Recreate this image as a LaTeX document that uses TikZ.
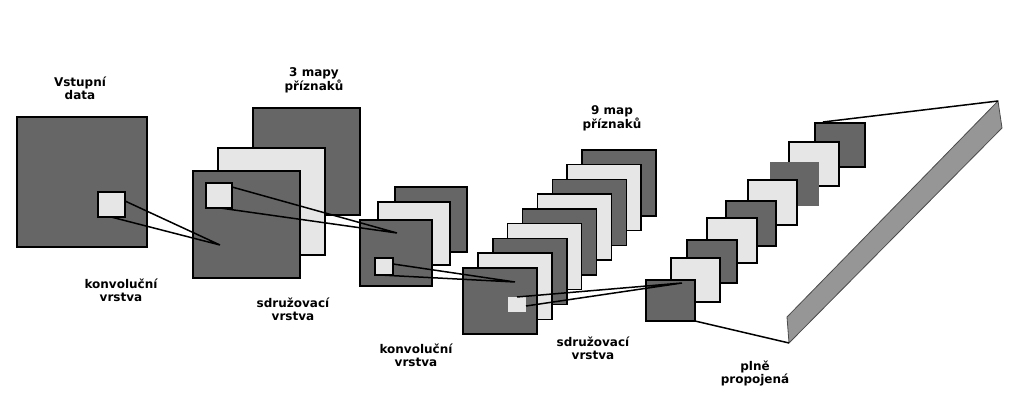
\documentclass[tikz,border=0pt]{standalone}
\usepackage{fontspec}
\setmainfont{DejaVu Sans}
\tikzset{every picture/.style={line width=1.5pt}}
\definecolor{mapdark}{RGB}{102,102,102}
\definecolor{maplight}{RGB}{230,230,230}
\definecolor{slabgray}{RGB}{150,150,150}
\tikzset{
  darkmap/.style={draw=black,fill=mapdark},
  lightmap/.style={draw=black,fill=maplight},
  lbl/.style={font=\bfseries\fontsize{12}{13}\selectfont,align=center},
  link/.style={draw=black,line width=1.5pt}
}
\begin{document}
\begin{tikzpicture}[x=1pt,y=1pt,yscale=-1,xscale=1]
\useasboundingbox (0,0) rectangle (1024,419);

% Input data
\draw[darkmap] (17,117) rectangle (147,247);
\draw[lightmap] (98,192) rectangle (125,217);
\coordinate (inA) at (125,201); \coordinate (inB) at (111,217);

% 3 maps (convolution)
\draw[darkmap] (253,108) rectangle (360,215);
\draw[lightmap] (218,148) rectangle (325,255);
\draw[darkmap] (193,171) rectangle (300,278);
\draw[lightmap] (206,183) rectangle (232,208);
\coordinate (cA) at (220,245);
\draw[link] (inA) -- (cA) (inB) -- (cA);
\coordinate (c1A) at (232,187); \coordinate (c1B) at (220,208);

% pooling
\draw[darkmap] (395,187) rectangle (467,252);
\draw[lightmap] (378,202) rectangle (450,265);
\draw[darkmap] (360,220) rectangle (432,286);
\draw[lightmap] (375,258) rectangle (393,275);
\coordinate (pA) at (397,233);
\draw[link] (c1A) -- (pA) (c1B) -- (pA);
\coordinate (p1A) at (393,264); \coordinate (p1B) at (380,275);

% 9 maps (convolution)
\foreach \i in {0,...,8}{
  \pgfmathsetmacro{\cx}{582-14.875*\i}
  \pgfmathsetmacro{\cy}{150+14.75*\i}
  \ifodd\i
    \draw[lightmap] (\cx,\cy) rectangle ++(74,66);
  \else
    \draw[darkmap] (\cx,\cy) rectangle ++(74,66);
  \fi
}
\draw[fill=maplight,draw=none] (508,297) rectangle (526,312);
\coordinate (kA) at (515,282);
\draw[link] (p1A) -- (kA) (p1B) -- (kA);
\coordinate (k1A) at (517,297); \coordinate (k1B) at (526,306);

% fully connected
\draw[darkmap] (815,123) rectangle (865,167);
\draw[lightmap] (789,142) rectangle (839,186);
\draw[fill=mapdark,draw=none] (770,162) rectangle (819,206);
\draw[lightmap] (748,180) rectangle (797,225);
\draw[darkmap] (726,201) rectangle (776,246);
\draw[lightmap] (707,218) rectangle (757,263);
\draw[darkmap] (687,240) rectangle (737,283);
\draw[lightmap] (671,258) rectangle (720,302);
\draw[darkmap] (646,280) rectangle (695,321);
\coordinate (fA) at (682,283);
\draw[link] (k1A) -- (fA) (k1B) -- (fA);

% slab
\draw[fill=slabgray,draw=black!70,line width=0.8pt] (787,317) -- (998,101) -- (1002,128) -- (789,343) -- cycle;
\coordinate (sTop) at (998,101); \coordinate (sBot) at (789,343);
\coordinate (fTop) at (823,122); \coordinate (fBot) at (695,321);
\draw[link] (fTop) -- (sTop) (fBot) -- (sBot);

% labels
\node[lbl] (tIn) at (80,88) {Vstupní\\data};
\node[lbl] (tMap3) at (314,80) {3 mapy\\příznaků};
\node[lbl] (tMap9) at (612,118) {9 map\\příznaků};
\node[lbl] (tConv1) at (121,290) {konvoluční\\vrstva};
\node[lbl] (tPool1) at (293,309) {sdružovací\\vrstva};
\node[lbl] (tConv2) at (416,355) {konvoluční\\vrstva};
\node[lbl] (tPool2) at (593,348) {sdružovací\\vrstva};
\node[lbl] (tFull) at (755,373) {plně\\propojená};

\end{tikzpicture}
\end{document}
